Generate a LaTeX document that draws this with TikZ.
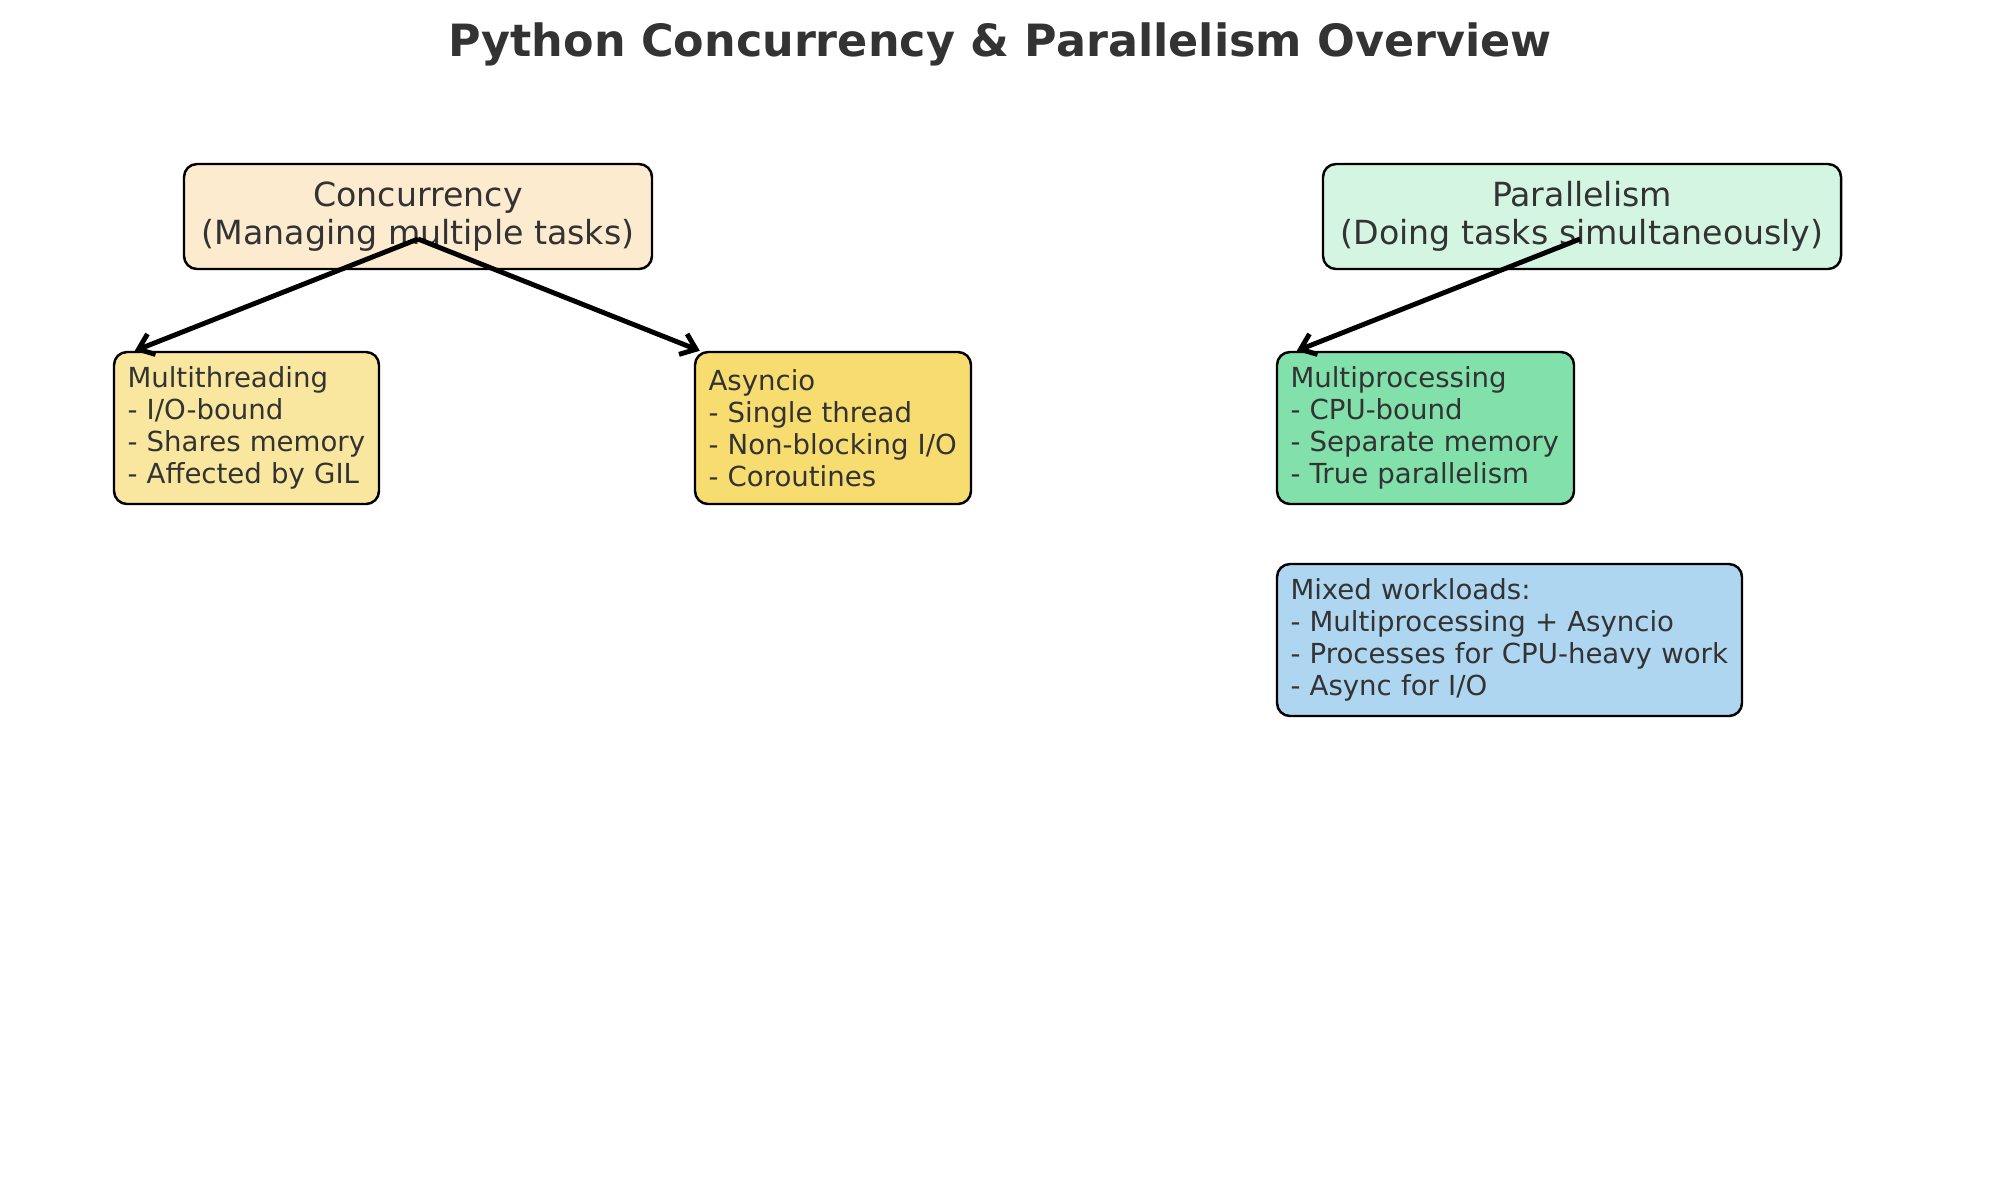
\documentclass[tikz,border=0pt]{standalone}
\usepackage{fontspec}
\setmainfont{DejaVu Sans}
\usetikzlibrary{arrows.meta}

\definecolor{txtgray}{HTML}{333333}
\definecolor{concfill}{HTML}{FDEBD0}
\definecolor{parfill}{HTML}{D5F5E3}
\definecolor{mtfill}{HTML}{F9E79F}
\definecolor{asfill}{HTML}{F7DC6F}
\definecolor{mpfill}{HTML}{82E0AA}
\definecolor{mixfill}{HTML}{AED6F1}

\begin{document}
\begin{tikzpicture}
    \tikzstyle{box}=[draw=black, line width=0.7pt, rounded corners=1.3mm, text=txtgray]
    \tikzstyle{headbox}=[box, minimum height=1.05cm, inner sep=0pt, align=center, font=\fontsize{9.45}{10.9}\selectfont]
    \tikzstyle{itembox}=[box, minimum height=1.52cm, inner xsep=1.35mm, inner ysep=0pt, align=left, font=\fontsize{7.85}{9.1}\selectfont]
    \tikzstyle{arr}=[-{Straight Barb[length=1.4mm, width=2.2mm]}, line width=1.4pt, black]

    \useasboundingbox (0,0) rectangle (20,-12);

    \node[font=\fontsize{12.65}{15}\selectfont\bfseries, text=txtgray] (title) at (10,-0.44) {Python Concurrency \& Parallelism Overview};

    \node[headbox, fill=concfill, minimum width=4.68cm] (conc) at (4.18,-2.165) {Concurrency\\(Managing multiple tasks)};
    \node[headbox, fill=parfill, minimum width=5.18cm] (par) at (15.82,-2.165) {Parallelism\\(Doing tasks simultaneously)};

    \node[itembox, fill=mtfill, text width=2.38cm] (mt) at (2.465,-4.28) {Multithreading\\- I/O-bound\\- Shares memory\\- Affected by GIL};
    \node[itembox, fill=asfill, text width=2.49cm] (as) at (8.33,-4.28) {Asyncio\\- Single thread\\- Non-blocking I/O\\- Coroutines};
    \node[itembox, fill=mpfill, text width=2.70cm] (mp) at (14.255,-4.28) {Multiprocessing\\- CPU-bound\\- Separate memory\\- True parallelism};
    \node[itembox, fill=mixfill, text width=4.38cm] (mix) at (15.095,-6.40) {Mixed workloads:\\- Multiprocessing + Asyncio\\- Processes for CPU-heavy work\\- Async for I/O};

    \coordinate (concout) at (4.18,-2.39);
    \coordinate (parout) at (15.80,-2.39);

    \draw[arr] (concout) -- ([xshift=2.2mm]mt.north west);
    \draw[arr] (concout) -- ([xshift=0.6mm]as.north west);
    \draw[arr] (parout) -- ([xshift=2.1mm]mp.north west);
\end{tikzpicture}
\end{document}
